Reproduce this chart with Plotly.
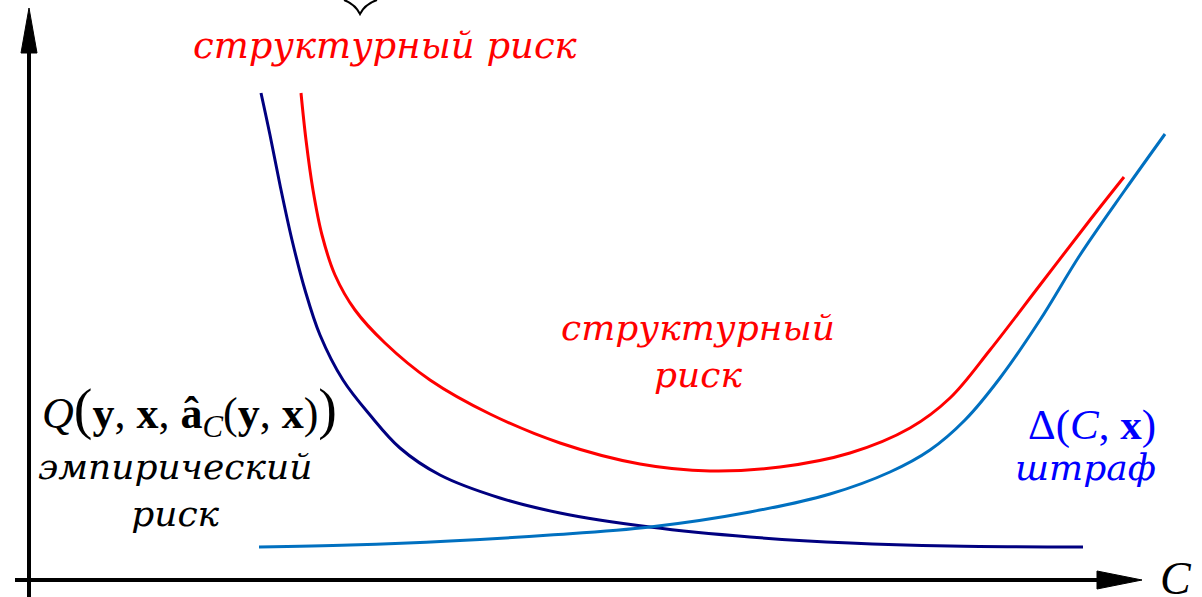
import plotly.graph_objects as go

# Curves (x = C position, y = value measured from top of canvas; axis reversed)
emp_x = [261, 270, 280, 292, 305, 320, 343, 370, 400, 440, 500, 560, 650, 750, 850, 950, 1083]
emp_y = [93, 135, 185, 240, 290, 335, 380, 415, 448, 475, 498, 513, 527, 537, 543, 546, 547]

str_x = [301, 306, 313, 322, 335, 355, 385, 430, 490, 560, 640, 710, 780, 850, 910, 950, 990, 1040, 1090, 1124]
str_y = [93, 140, 190, 235, 275, 310, 343, 380, 414, 443, 464, 471, 467, 453, 428, 398, 350, 285, 220, 177]

pen_x = [259, 350, 450, 550, 650, 750, 830, 890, 930, 965, 1000, 1040, 1080, 1125, 1165]
pen_y = [547, 545, 541, 535, 527, 512, 494, 472, 450, 420, 378, 320, 255, 190, 134]

fig = go.Figure()
fig.add_trace(go.Scatter(x=emp_x, y=emp_y, mode="lines",
                         line=dict(color="#000080", width=3, shape="spline", smoothing=1.0)))
fig.add_trace(go.Scatter(x=str_x, y=str_y, mode="lines",
                         line=dict(color="#FF0000", width=3, shape="spline", smoothing=1.0)))
fig.add_trace(go.Scatter(x=pen_x, y=pen_y, mode="lines",
                         line=dict(color="#0070C0", width=3, shape="spline", smoothing=1.0)))

# Axes with arrows
shapes = [
    dict(type="line", x0=29, y0=597, x1=29, y1=50, line=dict(color="black", width=4)),
    dict(type="path", path="M 29 8 L 37 53 L 21 53 Z", fillcolor="black", line=dict(color="black", width=1)),
    dict(type="line", x0=15, y0=580, x1=1100, y1=580, line=dict(color="black", width=4)),
    dict(type="path", path="M 1142 580 L 1097 571 L 1097 589 Z", fillcolor="black", line=dict(color="black", width=1)),
    # brace tip at the top
    dict(type="path", path="M 344 0 Q 355 4 360 14 Q 365 4 377 0", line=dict(color="black", width=2)),
]

font = "DejaVu Serif"
lat = "Liberation Serif"
big = "<span style='font-size:56px'>"
ann = [
    dict(x=385, y=45, text="<i>структурный риск</i>", font=dict(color="#FF0000", size=37, family=font)),
    dict(x=698, y=351, text="<i>структурный<br>риск</i>", font=dict(color="#FF0000", size=36, family=font)),
    dict(x=189, y=411,
         text="<i>Q</i>" + big + "(</span><b>y</b>, <b>x</b>, <b>â</b><sub><i>C</i></sub>(<b>y</b>, <b>x</b>)"
              + big + ")</span>",
         font=dict(color="black", size=44, family=lat)),
    dict(x=175, y=490, text="<i>эмпирический<br>риск</i>", font=dict(color="black", size=36, family=font)),
    dict(x=1092, y=425, text="Δ(<i>C</i>, <b>x</b>)", font=dict(color="#0000FF", size=43, family=lat)),
    dict(x=1085, y=467, text="<i>штраф</i>", font=dict(color="#0000FF", size=36, family=font)),
    dict(x=1176, y=578, text="<i>C</i>", font=dict(color="black", size=46, family=lat)),
]
for a in ann:
    a.update(xref="x", yref="y", showarrow=False, xanchor="center", yanchor="middle")

fig.update_layout(
    width=1202, height=597,
    margin=dict(l=0, r=0, t=0, b=0),
    paper_bgcolor="white", plot_bgcolor="white",
    showlegend=False,
    xaxis=dict(range=[0, 1202], visible=False),
    yaxis=dict(range=[597, 0], visible=False),
    shapes=shapes, annotations=ann,
)
fig.write_html("out.html", config={"displayModeBar": False},
               post_script="document.body.style.margin='0';document.body.style.overflow='hidden';")
